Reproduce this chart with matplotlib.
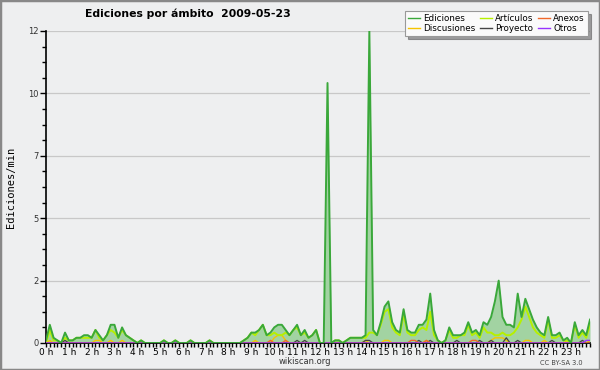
import numpy as np
import matplotlib
matplotlib.use("Agg")
import matplotlib.pyplot as plt
from matplotlib.ticker import FixedLocator, MultipleLocator
from matplotlib.patches import Rectangle

# edits per minute, 10-minute bins (144 bins = 24 h)
ediciones = [
    0.1, 0.7, 0.2, 0.1, 0.0, 0.4, 0.1, 0.1, 0.2, 0.2, 0.3, 0.3,
    0.2, 0.5, 0.3, 0.1, 0.3, 0.7, 0.7, 0.2, 0.6, 0.3, 0.2, 0.1,
    0.0, 0.1, 0.0, 0.0, 0.0, 0.0, 0.0, 0.1, 0.0, 0.0, 0.1, 0.0,
    0.0, 0.0, 0.1, 0.0, 0.0, 0.0, 0.0, 0.1, 0.0, 0.0, 0.0, 0.0,
    0.0, 0.0, 0.0, 0.0, 0.1, 0.2, 0.4, 0.4, 0.5, 0.7, 0.3, 0.4,
    0.6, 0.7, 0.7, 0.5, 0.3, 0.5, 0.7, 0.3, 0.5, 0.2, 0.3, 0.5,
    0.0, 0.0, 10.0, 0.0, 0.1, 0.1, 0.0, 0.1, 0.2, 0.2, 0.2, 0.2,
    0.3, 12.0, 0.5, 0.3, 0.8, 1.4, 1.6, 0.8, 0.5, 0.4, 1.3, 0.5,
    0.4, 0.4, 0.7, 0.7, 0.9, 1.9, 0.5, 0.1, 0.0, 0.1, 0.6, 0.3,
    0.3, 0.3, 0.4, 0.8, 0.4, 0.5, 0.3, 0.8, 0.7, 1.0, 1.6, 2.4,
    1.0, 0.7, 0.7, 0.6, 1.9, 1.0, 1.7, 1.3, 0.9, 0.6, 0.4, 0.3,
    1.0, 0.3, 0.3, 0.4, 0.1, 0.2, 0.0, 0.8, 0.3, 0.5, 0.3, 0.9,
]
articulos = [
    0.0, 0.5, 0.1, 0.1, 0.0, 0.2, 0.1, 0.1, 0.2, 0.2, 0.2, 0.2,
    0.2, 0.5, 0.2, 0.1, 0.3, 0.5, 0.4, 0.2, 0.5, 0.3, 0.2, 0.1,
    0.0, 0.1, 0.0, 0.0, 0.0, 0.0, 0.0, 0.1, 0.0, 0.0, 0.1, 0.0,
    0.0, 0.0, 0.1, 0.0, 0.0, 0.0, 0.0, 0.1, 0.0, 0.0, 0.0, 0.0,
    0.0, 0.0, 0.0, 0.0, 0.1, 0.2, 0.4, 0.3, 0.5, 0.7, 0.3, 0.3,
    0.4, 0.3, 0.3, 0.4, 0.3, 0.5, 0.6, 0.3, 0.4, 0.2, 0.3, 0.5,
    0.0, 0.0, 0.0, 0.0, 0.1, 0.1, 0.0, 0.1, 0.2, 0.2, 0.2, 0.2,
    0.2, 0.4, 0.4, 0.3, 0.7, 1.2, 1.3, 0.6, 0.4, 0.3, 1.1, 0.4,
    0.3, 0.3, 0.5, 0.6, 0.5, 1.2, 0.3, 0.1, 0.0, 0.1, 0.5, 0.2,
    0.2, 0.3, 0.3, 0.7, 0.3, 0.4, 0.2, 0.6, 0.4, 0.4, 0.3, 0.3,
    0.4, 0.3, 0.3, 0.4, 0.6, 0.9, 1.4, 1.0, 0.6, 0.4, 0.3, 0.2,
    0.9, 0.2, 0.2, 0.3, 0.1, 0.1, 0.0, 0.7, 0.2, 0.4, 0.2, 0.7,
]
discusiones = [
    0.0, 0.1, 0.0, 0.0, 0.0, 0.0, 0.0, 0.0, 0.0, 0.0, 0.0, 0.0,
    0.0, 0.1, 0.1, 0.0, 0.0, 0.1, 0.0, 0.0, 0.1, 0.0, 0.0, 0.0,
    0.0, 0.0, 0.0, 0.0, 0.0, 0.0, 0.0, 0.0, 0.0, 0.0, 0.0, 0.0,
    0.0, 0.0, 0.0, 0.0, 0.0, 0.0, 0.0, 0.0, 0.0, 0.0, 0.0, 0.0,
    0.0, 0.0, 0.0, 0.0, 0.0, 0.0, 0.0, 0.1, 0.0, 0.0, 0.0, 0.0,
    0.2, 0.3, 0.3, 0.1, 0.0, 0.0, 0.0, 0.0, 0.0, 0.0, 0.0, 0.0,
    0.0, 0.0, 0.0, 0.0, 0.0, 0.0, 0.0, 0.0, 0.0, 0.0, 0.0, 0.0,
    0.1, 0.0, 0.0, 0.0, 0.0, 0.1, 0.1, 0.0, 0.0, 0.0, 0.0, 0.0,
    0.0, 0.0, 0.0, 0.0, 0.1, 0.0, 0.0, 0.0, 0.0, 0.0, 0.0, 0.0,
    0.0, 0.0, 0.0, 0.0, 0.0, 0.0, 0.0, 0.0, 0.0, 0.1, 0.2, 0.2,
    0.2, 0.1, 0.0, 0.0, 0.0, 0.0, 0.1, 0.1, 0.0, 0.0, 0.0, 0.1,
    0.0, 0.0, 0.0, 0.0, 0.0, 0.1, 0.0, 0.0, 0.0, 0.0, 0.0, 0.1,
]
anexos = [0.0] * 144
for i in [59, 63, 96, 97, 100, 112, 113]:
    anexos[i] = 0.1
proyecto = [0.0] * 144
for i in [5, 66, 68, 84, 85, 98, 101, 108, 114, 117, 124, 133, 141]:
    proyecto[i] = 0.1
proyecto[121] = 0.2
otros = [0.0] * 144
otros[142] = 0.1
otros[143] = 0.1

hour_labels = ["%d h" % h for h in range(24)]
y_labels = ["0", "2", "5", "7", "10", "12"]

x = np.arange(144) / 6.0
bg = "#eeeff0"

fig = plt.figure(figsize=(6, 3.7), dpi=100, facecolor=bg)
ax = fig.add_axes([46 / 600, 1 - 343 / 370, 544 / 600, 312 / 370])
ax.set_facecolor(bg)

ax.fill_between(x, ediciones, color="#a2d3a2", lw=0, zorder=2)
ax.plot(x, ediciones, color="#3aa83a", lw=1.4, zorder=5, label="Ediciones")
ax.plot(x, discusiones, color="#f5c400", lw=1.0, zorder=4, label="Discusiones")
ax.plot(x, articulos, color="#b6f000", lw=1.4, zorder=4, label="Artículos")
ax.plot(x, proyecto, color="#444444", lw=0.9, zorder=4, label="Proyecto")
ax.plot(x, anexos, color="#f0682a", lw=1.0, zorder=4, label="Anexos")
ax.plot(x, otros, color="#9933ff", lw=1.0, zorder=4, label="Otros")

ax.set_xlim(0, 143 / 6)
ax.set_ylim(0, 12)

ax.xaxis.set_major_locator(FixedLocator(range(24)))
ax.set_xticklabels(hour_labels, fontsize=6.5)
ax.xaxis.set_minor_locator(MultipleLocator(1 / 6))
ax.yaxis.set_major_locator(FixedLocator(np.linspace(0, 12, 6)))
ax.set_yticklabels(y_labels, fontsize=6, color="#333333")
ax.yaxis.set_minor_locator(MultipleLocator(12 / 20))
ax.tick_params(axis="x", which="both", direction="out", length=3, width=1, pad=0.5)
ax.tick_params(axis="y", which="major", direction="out", length=4, width=1, pad=1)
ax.tick_params(axis="y", which="minor", direction="out", length=3, width=1)
ax.grid(axis="y", color="#c8c8c8", lw=0.9, zorder=0)

for s in ["top", "right"]:
    ax.spines[s].set_visible(False)
ax.spines["left"].set_linewidth(1.2)
ax.spines["bottom"].set_linewidth(1.2)

ax.set_ylabel("Ediciones/min", fontsize=7.5, family="DejaVu Sans Mono", labelpad=9)

fig.text(0.313, 0.962, "Ediciones por ámbito  2009-05-23", fontsize=7.8,
         fontweight="bold", ha="center", va="center")
fig.text(0.508, 0.022, "wikiscan.org", fontsize=6, color="#333333", ha="center", va="center")
fig.text(0.935, 0.02, "CC BY-SA 3.0", fontsize=4.8, color="#444444", ha="center", va="center")

leg = ax.legend(ncol=3, loc="upper right", bbox_to_anchor=(1.004, 1.078),
                fontsize=6.3, frameon=True, fancybox=False, shadow=True,
                handlelength=1.4, handletextpad=0.35, columnspacing=0.5,
                labelspacing=0.1, borderpad=0.35)
leg.get_frame().set_facecolor("#fafafa")
leg.get_frame().set_edgecolor("#999999")
leg.get_frame().set_linewidth(0.8)
for line in leg.get_lines():
    line.set_linewidth(1.0)
leg.set_zorder(10)

fig.patches.append(Rectangle((0, 0), 1, 1, transform=fig.transFigure,
                             fill=False, edgecolor="#888888", lw=2.5))

fig.savefig("out.png", dpi=100, facecolor=bg)
